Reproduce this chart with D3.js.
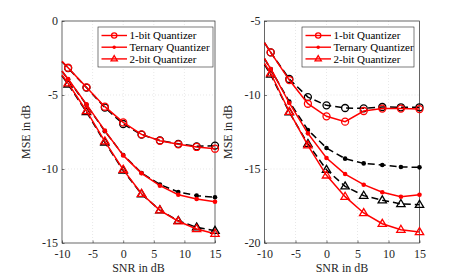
<!DOCTYPE html>
<html>
<head>
<meta charset="utf-8">
<script src="https://cdn.jsdelivr.net/npm/d3@7"></script>
<style>
  body { margin: 0; background: #fff; }
  svg text { font-family: "Liberation Serif", "Times New Roman", "DejaVu Serif", serif; }
  .tick text { font-size: 12px; fill: #262626; }
  .axis-title { font-size: 12px; fill: #262626; }
  .legend text { font-size: 11px; fill: #000; }
</style>
</head>
<body>
<svg id="chart" width="463" height="276"></svg>
<script>
const snr = [-10, -9, -6, -3, 0, 3, 6, 9, 12, 15];
const xTicks = [-10, -5, 0, 5, 10, 15];

// left panel
const leftOneBitRed = [-2.72, -3.16, -4.48, -5.79, -6.85, -7.66, -8.09, -8.33, -8.51, -8.63];
const leftOneBitBlack = [-2.75, -3.18, -4.5, -5.85, -6.96, -7.68, -8.07, -8.3, -8.47, -8.42];
const leftTernaryRed = [-3.38, -3.92, -5.63, -7.41, -9.08, -10.29, -11.13, -11.74, -12.03, -12.21];
const leftTernaryBlack = [-3.4, -3.95, -5.66, -7.45, -9.05, -10.27, -11.05, -11.55, -11.8, -11.91];
const leftTwoBitRed = [-3.65, -4.21, -6.08, -8.13, -10.04, -11.67, -12.79, -13.53, -14.05, -14.37];
const leftTwoBitBlack = [-3.7, -4.28, -6.15, -8.2, -10.1, -11.7, -12.78, -13.5, -13.94, -14.17];
const leftYTicks = [-15, -10, -5, 0];

// right panel
const rightOneBitRed = [-6.47, -7.12, -8.99, -10.59, -11.44, -11.8, -11.08, -10.92, -10.92, -10.95];
const rightOneBitBlack = [-6.47, -7.12, -8.92, -10.14, -10.7, -10.88, -10.9, -10.81, -10.83, -10.83];
const rightTernaryRed = [-7.52, -8.24, -10.54, -12.59, -14.26, -15.34, -16.06, -16.57, -16.87, -16.74];
const rightTernaryBlack = [-7.55, -8.25, -10.45, -12.36, -13.58, -14.3, -14.62, -14.73, -14.86, -14.89];
const rightTwoBitRed = [-7.86, -8.53, -11.13, -13.4, -15.43, -16.87, -17.97, -18.7, -19.1, -19.26];
const rightTwoBitBlack = [-7.95, -8.62, -11.17, -13.3, -15.05, -16.17, -16.8, -17.11, -17.36, -17.41];
const rightYTicks = [-20, -15, -10, -5];

const legendLabels = ["1-bit Quantizer", "Ternary Quantizer", "2-bit Quantizer"];
const markerKinds = ["circle", "dot", "triangle"];

const RED = "#ff0000";
const BLACK = "#000000";
const AXIS = "#262626";
const FONT = '"Liberation Serif", "Times New Roman", "DejaVu Serif", serif';

const svg = d3.select("#chart");

const panels = [
  {
    left: 62, right: 215, top: 21, bottom: 243,
    yDomain: [-15, 0], yTicks: leftYTicks, labelX: 30,
    legend: { x: 98, y: 27, w: 115, h: 40 },
    black: [leftOneBitBlack, leftTernaryBlack, leftTwoBitBlack],
    red: [leftOneBitRed, leftTernaryRed, leftTwoBitRed],
  },
  {
    left: 264.5, right: 419.5, top: 21, bottom: 243,
    yDomain: [-20, -5], yTicks: rightYTicks, labelX: 232,
    legend: { x: 302, y: 27, w: 112, h: 40 },
    black: [rightOneBitBlack, rightTernaryBlack, rightTwoBitBlack],
    red: [rightOneBitRed, rightTernaryRed, rightTwoBitRed],
  },
];

for (const panel of panels) drawPanel(panel);

function drawPanel(panel) {
  const x = d3.scaleLinear().domain([-10, 15]).range([panel.left, panel.right]);
  const y = d3.scaleLinear().domain(panel.yDomain).range([panel.bottom, panel.top]);
  const g = svg.append("g");

  // grid
  g.append("g")
    .selectAll("line")
    .data(xTicks.slice(1, -1))
    .join("line")
    .attr("x1", (d) => x(d)).attr("x2", (d) => x(d))
    .attr("y1", panel.top).attr("y2", panel.bottom)
    .attr("stroke", "#d9d9d9").attr("stroke-width", 0.6).attr("stroke-dasharray", "1,2");
  g.append("g")
    .selectAll("line")
    .data(panel.yTicks.slice(1, -1))
    .join("line")
    .attr("y1", (d) => y(d)).attr("y2", (d) => y(d))
    .attr("x1", panel.left).attr("x2", panel.right)
    .attr("stroke", "#d9d9d9").attr("stroke-width", 0.6).attr("stroke-dasharray", "1,2");

  // axes
  const xAxis = g.append("g")
    .attr("transform", `translate(0,${panel.bottom})`)
    .call(d3.axisBottom(x).tickValues(xTicks).tickSize(-2.5).tickPadding(5).tickFormat(d3.format("d")));
  const yAxis = g.append("g")
    .attr("transform", `translate(${panel.left},0)`)
    .call(d3.axisLeft(y).tickValues(panel.yTicks).tickSize(-2.5).tickPadding(4).tickFormat(d3.format("d")));
  for (const axis of [xAxis, yAxis]) {
    axis.attr("font-family", FONT).attr("font-size", 12);
    axis.select(".domain").remove();
    axis.selectAll(".tick line").attr("stroke", AXIS).attr("stroke-width", 0.6);
    axis.selectAll(".tick text").text((d) => String(d));
  }
  xAxis.selectAll(".tick text").attr("dy", "0.85em");

  // box
  g.append("rect")
    .attr("x", panel.left).attr("y", panel.top)
    .attr("width", panel.right - panel.left).attr("height", panel.bottom - panel.top)
    .attr("fill", "none").attr("stroke", AXIS).attr("stroke-width", 0.7);

  const line = d3.line().x((d, i) => x(snr[i])).y((d) => y(d));

  panel.black.forEach((series, k) => drawSeries(g, series, k, BLACK, "7,4", x, y, line));
  panel.red.forEach((series, k) => drawSeries(g, series, k, RED, null, x, y, line));

  // titles
  g.append("text")
    .attr("class", "axis-title")
    .attr("x", (panel.left + panel.right) / 2).attr("y", 272)
    .attr("text-anchor", "middle")
    .text("SNR in dB");
  g.append("text")
    .attr("class", "axis-title")
    .attr("transform", `translate(${panel.labelX},${(panel.top + panel.bottom) / 2}) rotate(-90)`)
    .attr("text-anchor", "middle")
    .text("MSE in dB");

  // legend
  const lg = g.append("g").attr("class", "legend");
  const L = panel.legend;
  lg.append("rect")
    .attr("x", L.x).attr("y", L.y).attr("width", L.w).attr("height", L.h)
    .attr("fill", "#fff").attr("stroke", AXIS).attr("stroke-width", 0.6);
  legendLabels.forEach((label, k) => {
    const ly = L.y + 8.5 + k * 11.7;
    lg.append("line")
      .attr("x1", L.x + 3.5).attr("x2", L.x + 29)
      .attr("y1", ly).attr("y2", ly)
      .attr("stroke", RED).attr("stroke-width", 1.4);
    drawMarker(lg, markerKinds[k], L.x + 16.2, ly, RED, 0.75);
    lg.append("text")
      .attr("x", L.x + 31.5).attr("y", ly).attr("dy", "0.35em")
      .text(label);
  });
}

function drawSeries(g, series, k, color, dash, x, y, line) {
  g.append("path")
    .datum(series)
    .attr("d", line)
    .attr("fill", "none")
    .attr("stroke", color)
    .attr("stroke-width", 1.5)
    .attr("stroke-dasharray", dash);
  series.forEach((v, i) => {
    if (i === 0) return;
    drawMarker(g, markerKinds[k], x(snr[i]), y(v), color, 1);
  });
}

function drawMarker(g, kind, cx, cy, color, scale) {
  if (kind === "circle") {
    g.append("circle").attr("cx", cx).attr("cy", cy).attr("r", 3.5 * scale)
      .attr("fill", "none").attr("stroke", color).attr("stroke-width", 1.3);
  } else if (kind === "dot") {
    g.append("circle").attr("cx", cx).attr("cy", cy).attr("r", 2.3 * scale)
      .attr("fill", color);
  } else {
    const s = 4.4 * scale;
    g.append("path")
      .attr("d", `M${cx},${cy - s} L${cx + s * 0.95},${cy + s * 0.6} L${cx - s * 0.95},${cy + s * 0.6} Z`)
      .attr("fill", "none").attr("stroke", color).attr("stroke-width", 1.3);
  }
}
</script>
</body>
</html>
